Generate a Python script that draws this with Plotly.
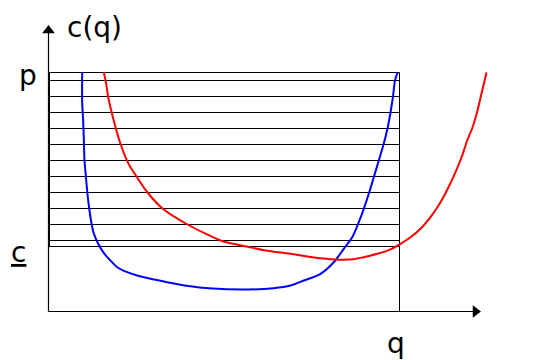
import plotly.graph_objects as go

# Conceptual units: q to the right of the origin, c upward from the q axis
blue_q = [33.7, 33.7, 34.7, 35.3, 36, 37.3, 39.3, 41, 43, 45.3, 49.7, 54.7, 60.3, 68.7, 78.7, 88.7, 102, 118.7,
          132, 142, 160, 200, 225, 242, 255.3, 272, 285.3, 295.3, 303.7, 310.3, 315.3, 320.3, 325.3, 330.3,
          335, 339, 342, 344.5, 346.5, 349]
blue_c = [239.3, 209.3, 190, 173, 151, 136, 114.3, 101, 88, 78, 67.7, 59.3, 52.7, 44.3, 39.3, 36, 32.7, 29.3,
          26.7, 25.3, 23.3, 22, 23.3, 26, 31, 37.7, 49.3, 62.7, 74.3, 89.3, 102.7, 117.7, 134.3, 151,
          167, 183, 199, 215, 231, 239]

red_q = [55.3, 57.7, 59.7, 62.7, 67, 72, 77, 81, 88, 99, 114, 139, 172, 178, 198, 217, 242, 264, 287, 305,
         315, 329, 342, 352, 362, 372, 382, 392, 400, 407, 413.7, 418.7, 424, 429, 433, 438]
red_c = [239.3, 227.7, 214.3, 201, 184.3, 167.7, 154.3, 146, 135, 119, 103, 87, 71, 69.3, 65, 61, 57.7, 54.3, 52, 52.3,
         54.3, 57.7, 62.2, 67.7, 74.3, 82.7, 94.3, 109.3, 124.3, 139.3, 156, 171, 184, 201, 218, 239]

price_levels = [65, 71, 87, 103, 119, 135, 151, 167, 183, 199, 215, 231, 239]
q_box = 351
c_top = 239
c_low = 65
q_axis_end = 432
c_axis_end = 286

fig = go.Figure()

# horizontal price lines
hx, hy = [], []
for lv in price_levels:
    hx += [0, q_box, None]
    hy += [lv, lv, None]
fig.add_trace(go.Scatter(x=hx, y=hy, mode="lines", line=dict(color="black", width=1), hoverinfo="skip"))
# box left edge and right vertical
fig.add_trace(go.Scatter(x=[1, 1], y=[c_low, c_top], mode="lines", line=dict(color="black", width=1), hoverinfo="skip"))
fig.add_trace(go.Scatter(x=[q_box, q_box], y=[0, c_top], mode="lines", line=dict(color="black", width=1), hoverinfo="skip"))

# axes
fig.add_trace(go.Scatter(x=[0, 0], y=[0, c_axis_end - 6], mode="lines", line=dict(color="black", width=1.2), hoverinfo="skip"))
fig.add_trace(go.Scatter(x=[0, q_axis_end - 6], y=[0, 0], mode="lines", line=dict(color="black", width=1.2), hoverinfo="skip"))
fig.add_trace(go.Scatter(x=[0], y=[c_axis_end - 5], mode="markers",
                         marker=dict(symbol="triangle-up", size=11, color="black"), hoverinfo="skip"))
fig.add_trace(go.Scatter(x=[q_axis_end - 5], y=[0], mode="markers",
                         marker=dict(symbol="triangle-right", size=11, color="black"), hoverinfo="skip"))

# cost curves
fig.add_trace(go.Scatter(x=blue_q, y=blue_c, mode="lines",
                         line=dict(color="#0000FF", width=2, shape="spline", smoothing=0.8), hoverinfo="skip"))
fig.add_trace(go.Scatter(x=red_q, y=red_c, mode="lines",
                         line=dict(color="#FF0000", width=2, shape="spline", smoothing=0.8), hoverinfo="skip"))

font = dict(family="DejaVu Sans", size=28, color="black")
labels = [
    ("c(q)", 46, 284),
    ("p", -21, 236),
    ("<u>c</u>", -30, 59),
    ("q", 347, -32),
]
for txt, x, y in labels:
    fig.add_annotation(x=x, y=y, text=txt, showarrow=False, font=font, xref="x", yref="y")

fig.update_layout(
    width=555, height=360, autosize=False,
    margin=dict(l=0, r=0, t=0, b=0),
    paper_bgcolor="white", plot_bgcolor="white",
    showlegend=False,
    xaxis=dict(range=[-40.5, 514.5], visible=False, fixedrange=True),
    yaxis=dict(range=[-56.5, 303.5], visible=False, fixedrange=True),
)

fig.write_html("out.html")
